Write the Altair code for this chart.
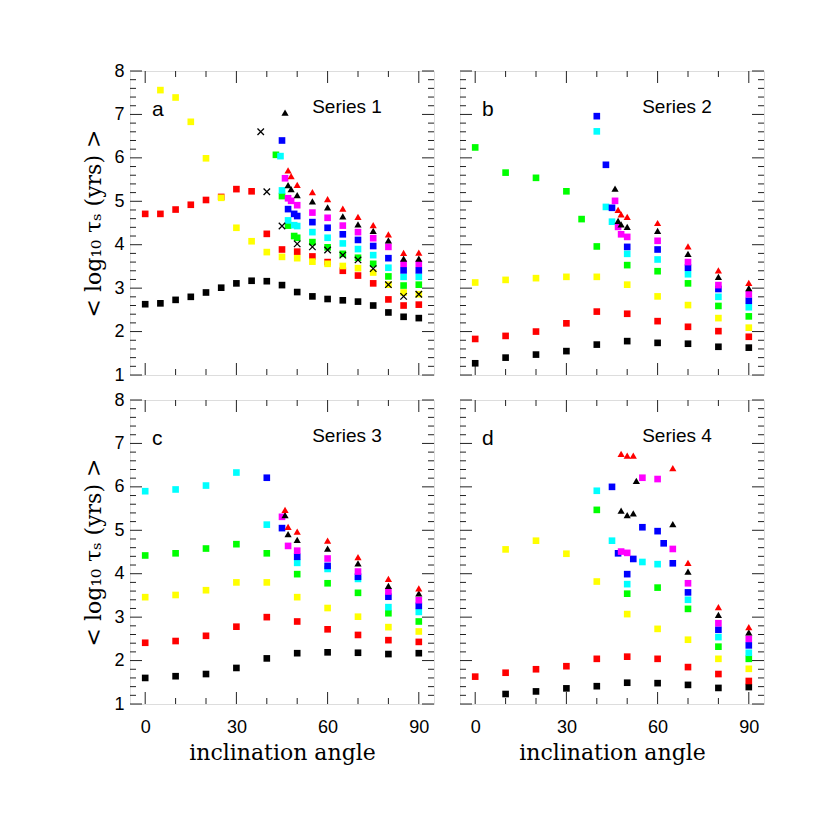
import altair as alt
import pandas as pd

# ---------------- data ----------------
X19 = [0, 5, 10, 15, 20, 25, 30, 35, 40, 45, 50, 55, 60, 65, 70, 75, 80, 85, 90]
X10 = [0, 10, 20, 30, 40, 50, 60, 70, 80, 90]
XT = [55, 60, 65, 70, 75, 80, 85, 90]

# Panel a  (Series 1)
a_black_x = X19
a_black_y = [2.63, 2.65, 2.73, 2.80, 2.90, 3.01, 3.11, 3.17, 3.16, 3.07, 2.91, 2.81, 2.75, 2.72, 2.69, 2.60, 2.44, 2.34, 2.31]
a_red_x = X19
a_red_y = [4.71, 4.71, 4.81, 4.92, 5.03, 5.10, 5.28, 5.23, 4.25, 3.89, 3.84, 3.73, 3.60, 3.40, 3.29, 3.11, 2.74, 2.60, 2.62]
a_yellow_x = X19[1:]
a_yellow_y = [7.56, 7.39, 6.83, 5.99, 5.08, 4.39, 4.08, 3.83, 3.72, 3.69, 3.61, 3.56, 3.51, 3.46, 3.36, 3.08, 2.90, 2.86]
a_green_x = [43, 45, 47, 49, 50] + XT
a_green_y = [6.07, 5.12, 4.44, 4.20, 4.16, 4.06, 3.94, 3.79, 3.70, 3.56, 3.27, 3.06, 3.08]
a_cyan_x = [44.5, 45, 47, 49, 50] + XT
a_cyan_y = [6.04, 5.25, 4.56, 4.45, 4.43, 4.29, 4.16, 4.03, 3.90, 3.76, 3.47, 3.26, 3.26]
a_blue_x = [45, 47, 49, 50] + XT
a_blue_y = [6.40, 4.82, 4.71, 4.66, 4.52, 4.39, 4.24, 4.11, 3.97, 3.69, 3.41, 3.41]
a_magenta_x = [46, 47, 48, 50] + XT
a_magenta_y = [5.53, 5.07, 5.01, 4.91, 4.74, 4.62, 4.44, 4.29, 4.15, 3.95, 3.56, 3.56]
a_cross_x = [38, 40, 45, 50] + XT
a_cross_y = [6.60, 5.22, 4.43, 4.02, 3.95, 3.88, 3.76, 3.65, 3.45, 3.08, 2.81, 2.86]
a_tblack_x = [46, 47, 48, 50] + XT
a_tblack_y = [7.04, 5.37, 5.28, 5.14, 5.00, 4.86, 4.65, 4.47, 4.32, 4.10, 3.68, 3.68]
a_tred_x = [47, 48, 50] + XT
a_tred_y = [5.71, 5.58, 5.38, 5.21, 5.05, 4.83, 4.64, 4.45, 4.24, 3.81, 3.82]

# Panel b  (Series 2)
b_black_x = X10
b_black_y = [1.27, 1.40, 1.47, 1.55, 1.70, 1.78, 1.74, 1.72, 1.65, 1.63]
b_red_x = X10
b_red_y = [1.83, 1.90, 2.00, 2.19, 2.46, 2.41, 2.24, 2.11, 2.01, 1.88]
b_yellow_x = X10
b_yellow_y = [3.13, 3.19, 3.23, 3.26, 3.26, 3.08, 2.81, 2.61, 2.31, 2.09]
b_green_x = [0, 10, 20, 30, 35, 40, 50, 60, 70, 80, 90]
b_green_y = [6.24, 5.66, 5.54, 5.23, 4.59, 3.96, 3.53, 3.39, 3.11, 2.59, 2.35]
b_cyan_x = [40, 43, 45, 50, 60, 70, 80, 90]
b_cyan_y = [6.61, 4.87, 4.53, 3.79, 3.66, 3.32, 2.80, 2.56]
b_blue_x = [40, 43, 45, 50, 60, 70, 80, 90]
b_blue_y = [6.96, 5.84, 4.85, 3.95, 3.89, 3.47, 2.98, 2.71]
b_magenta_x = [46, 47, 48, 50, 60, 70, 80, 90]
b_magenta_y = [5.01, 4.41, 4.24, 4.18, 4.09, 3.60, 3.07, 2.86]
b_tblack_x = [46, 47, 48, 50, 60, 70, 80, 90]
b_tblack_y = [5.29, 4.55, 4.47, 4.41, 4.32, 3.79, 3.26, 3.00]
b_tred_x = [47, 48, 50, 60, 70, 80, 90]
b_tred_y = [4.80, 4.70, 4.64, 4.50, 3.96, 3.41, 3.12]

# Panel c  (Series 3)
c_black_x = X10
c_black_y = [1.60, 1.64, 1.69, 1.83, 2.05, 2.17, 2.19, 2.18, 2.15, 2.17]
c_red_x = X10
c_red_y = [2.41, 2.45, 2.57, 2.78, 3.00, 2.90, 2.72, 2.59, 2.47, 2.43]
c_yellow_x = X10
c_yellow_y = [3.46, 3.51, 3.62, 3.80, 3.80, 3.46, 3.21, 3.01, 2.77, 2.67]
c_green_x = X10
c_green_y = [4.42, 4.47, 4.58, 4.68, 4.47, 3.99, 3.78, 3.56, 3.09, 2.90]
c_cyan_x = X10
c_cyan_y = [5.90, 5.94, 6.03, 6.33, 5.13, 4.25, 4.11, 3.88, 3.23, 3.12]
c_blue_x = [40, 45, 50, 60, 70, 80, 90]
c_blue_y = [6.21, 5.05, 4.39, 4.18, 3.93, 3.47, 3.26]
c_magenta_x = [45, 47, 50, 60, 70, 80, 90]
c_magenta_y = [5.31, 4.64, 4.53, 4.35, 4.05, 3.59, 3.39]
c_tblack_x = [46, 47, 50, 60, 70, 80, 90]
c_tblack_y = [5.35, 4.91, 4.78, 4.58, 4.24, 3.72, 3.55]
c_tred_x = [46, 47, 50, 60, 70, 80, 90]
c_tred_y = [5.47, 5.08, 4.97, 4.76, 4.38, 3.88, 3.66]

# Panel d  (Series 4)
d_black_x = X10[1:]
d_black_y = [1.23, 1.29, 1.36, 1.41, 1.49, 1.48, 1.44, 1.37, 1.39]
d_red_x = X10
d_red_y = [1.63, 1.72, 1.80, 1.87, 2.04, 2.09, 2.04, 1.85, 1.69, 1.53]
d_yellow_x = X10[1:]
d_yellow_y = [4.56, 4.76, 4.46, 3.82, 3.07, 2.73, 2.48, 2.04, 1.81]
d_green_x = [40, 50, 60, 70, 80, 90]
d_green_y = [5.47, 3.54, 3.68, 3.19, 2.32, 2.04]
d_cyan_x = [40, 45, 50, 55, 60, 70, 80, 90]
d_cyan_y = [5.91, 4.76, 3.76, 4.27, 4.22, 3.40, 2.54, 2.18]
d_blue_x = [45, 47, 50, 52, 55, 60, 62, 65, 70, 80, 90]
d_blue_y = [6.00, 4.47, 3.99, 4.34, 5.07, 4.98, 4.70, 4.24, 3.57, 2.71, 2.35]
d_magenta_x = [48, 50, 55, 60, 65, 70, 80, 90]
d_magenta_y = [4.51, 4.48, 6.21, 6.18, 4.57, 3.78, 2.86, 2.50]
d_tblack_x = [48, 50, 52, 53, 65, 70, 80, 90]
d_tblack_y = [5.45, 5.35, 5.39, 6.14, 5.14, 4.05, 3.05, 2.65]
d_tred_x = [48, 50, 52, 65, 70, 80, 90]
d_tred_y = [6.76, 6.72, 6.72, 6.43, 4.25, 3.23, 2.77]

PANEL_LETTERS = ["a", "b", "c", "d"]
PANEL_TITLES = ["Series 1", "Series 2", "Series 3", "Series 4"]
X_TICK_LABELS = [0, 30, 60, 90]
Y_TICK_LABELS = [1, 2, 3, 4, 5, 6, 7, 8]
X_MINOR = [10, 20, 40, 50, 70, 80]
Y_MINOR = [m + f for m in range(1, 8) for f in (0.2, 0.4, 0.6, 0.8)]

SQ_NAMES = ["black", "red", "yellow", "green", "cyan", "blue", "magenta"]
SQ_COLORS = ["#000000", "#ff0000", "#ffff00", "#00ff00", "#00ffff", "#0000ff", "#ff00ff"]
TRI_NAMES = ["tblack", "tred"]
TRI_COLORS = ["#000000", "#ff0000"]

W = 304
H = 304
SANS = "Liberation Sans"
SERIF = "DejaVu Serif"
TICK_COLOR = "#222222"


def series_frame(prefix, names):
    g = globals()
    parts = []
    for i, n in enumerate(names):
        xs = g[f"{prefix}_{n}_x"]
        ys = g[f"{prefix}_{n}_y"]
        parts.append(pd.DataFrame({"x": xs, "y": ys, "s": n, "o": i}))
    return pd.concat(parts, ignore_index=True)


def make_panel(prefix, idx, show_x, show_y):
    if show_x:
        xaxis = alt.Axis(values=X_TICK_LABELS, ticks=False, domain=False, grid=False,
                         labelFont=SANS, labelFontSize=18, labelColor="black",
                         labelPadding=14, title="inclination angle",
                         titleFont=SERIF, titleFontSize=22, titleFontWeight="normal",
                         titleColor="black", titlePadding=6)
    else:
        xaxis = None
    if show_y:
        yaxis = alt.Axis(values=Y_TICK_LABELS, ticks=False, domain=False, grid=False,
                         labelFont=SANS, labelFontSize=18, labelColor="black",
                         labelPadding=6, title="< log\u2081\u2080 \u03c4\u209b (yrs) >",
                         titleFont=SERIF, titleFontSize=22, titleFontWeight="normal",
                         titleColor="black", titlePadding=8)
    else:
        yaxis = None

    xs = alt.Scale(domain=[-5, 95], nice=False, zero=False)
    ys = alt.Scale(domain=[1, 8], nice=False, zero=False)

    def X():
        return alt.X("x:Q", scale=xs, axis=xaxis)

    def Y():
        return alt.Y("y:Q", scale=ys, axis=yaxis)

    layers = []
    xmaj = pd.DataFrame({"x": X_TICK_LABELS})
    xmin = pd.DataFrame({"x": X_MINOR})
    ymaj = pd.DataFrame({"y": Y_TICK_LABELS})
    ymin = pd.DataFrame({"y": Y_MINOR})
    for df, ln in ((xmaj, 12), (xmin, 6)):
        layers.append(alt.Chart(df).mark_rule(color=TICK_COLOR, strokeWidth=1).encode(
            x=X(), y=alt.value(0), y2=alt.value(ln)))
        layers.append(alt.Chart(df).mark_rule(color=TICK_COLOR, strokeWidth=1).encode(
            x=X(), y=alt.value(H), y2=alt.value(H - ln)))
    for df, ln in ((ymaj, 12), (ymin, 6)):
        layers.append(alt.Chart(df).mark_rule(color=TICK_COLOR, strokeWidth=1).encode(
            y=Y(), x=alt.value(0), x2=alt.value(ln)))
        layers.append(alt.Chart(df).mark_rule(color=TICK_COLOR, strokeWidth=1).encode(
            y=Y(), x=alt.value(W), x2=alt.value(W - ln)))

    sq = series_frame(prefix, SQ_NAMES)
    layers.append(alt.Chart(sq).mark_square(size=44, opacity=1).encode(
        x=X(), y=Y(),
        color=alt.Color("s:N", scale=alt.Scale(domain=SQ_NAMES, range=SQ_COLORS), legend=None),
        order=alt.Order("o:Q")))

    if prefix == "a":
        cr = pd.DataFrame({"x": a_cross_x, "y": a_cross_y})
        layers.append(alt.Chart(cr).mark_point(
            shape="M-1,-1L1,1M-1,1L1,-1", filled=False, size=42, color="black",
            strokeWidth=1.3, opacity=1).encode(x=X(), y=Y()))

    tr = series_frame(prefix, TRI_NAMES)
    layers.append(alt.Chart(tr).mark_point(shape="triangle-up", filled=True, size=52, opacity=1).encode(
        x=X(), y=Y(),
        color=alt.Color("s:N", scale=alt.Scale(domain=TRI_NAMES, range=TRI_COLORS), legend=None),
        order=alt.Order("o:Q")))

    letter = pd.DataFrame({"t": [PANEL_LETTERS[idx]]})
    layers.append(alt.Chart(letter).mark_text(align="left", baseline="alphabetic", font=SANS,
                                              fontSize=21, color="black").encode(
        text="t:N", x=alt.value(22), y=alt.value(45)))
    ttl = pd.DataFrame({"t": [PANEL_TITLES[idx]]})
    layers.append(alt.Chart(ttl).mark_text(align="center", baseline="alphabetic", font=SANS,
                                           fontSize=19, color="black").encode(
        text="t:N", x=alt.value(217), y=alt.value(42)))

    return alt.layer(*layers).resolve_scale(color="independent").properties(width=W, height=H)


pa = make_panel("a", 0, False, True)
pb = make_panel("b", 1, False, False)
pc = make_panel("c", 2, True, True)
pd_ = make_panel("d", 3, True, False)

chart = alt.concat(pa, pb, pc, pd_, columns=2, spacing={"row": 25, "column": 26},
                   bounds="flush").properties(
    padding={"left": 74, "top": 53, "right": 5, "bottom": 5}
).configure_view(stroke="black", strokeWidth=1).configure(background="white")

chart.save("out.html", embed_options={"renderer": "svg", "actions": False})
